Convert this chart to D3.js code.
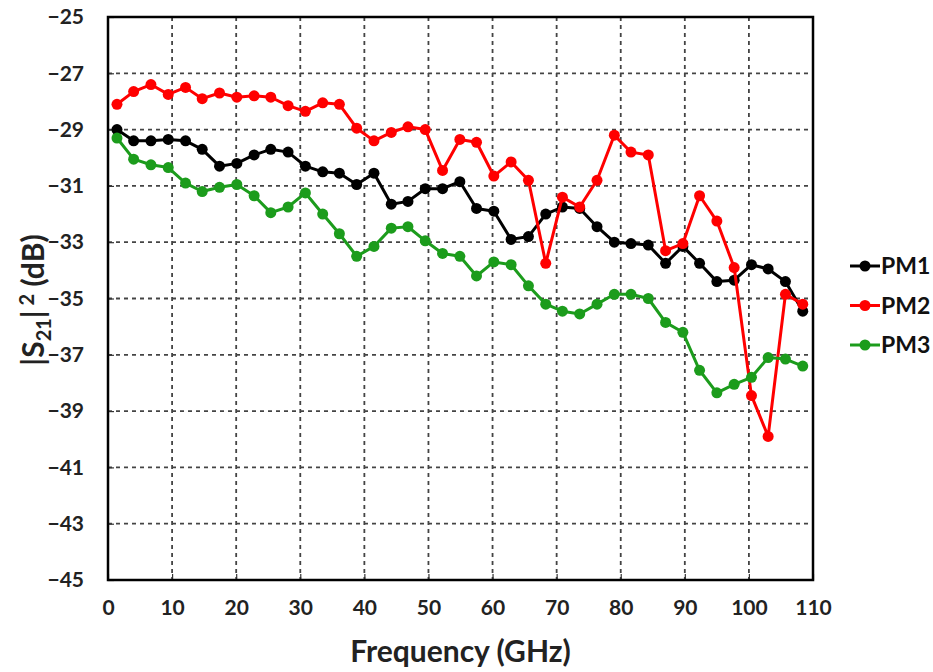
<!DOCTYPE html>
<html>
<head>
<meta charset="utf-8">
<script src="https://cdn.jsdelivr.net/npm/d3@7"></script>
<style>
  body { margin: 0; background: #fff; }
  svg text { font-family: Lato, "Open Sans", sans-serif; font-weight: bold; }
</style>
</head>
<body>
<div id="chart"></div>
<script>
// frequency points (GHz)
var freqs = [1.4, 4.0, 6.7, 9.4, 12.1, 14.7, 17.4, 20.1, 22.8, 25.4, 28.1, 30.8, 33.5, 36.1,
    38.8, 41.5, 44.2, 46.8, 49.5, 52.2, 54.9, 57.5, 60.2, 62.9, 65.6, 68.3, 70.9, 73.6,
    76.3, 79.0, 81.6, 84.3, 87.0, 89.7, 92.3, 95.0, 97.7, 100.4, 103.0, 105.7, 108.4];

var pm1 = [-29.0, -29.4, -29.4, -29.35, -29.4, -29.7, -30.3, -30.2, -29.9, -29.7, -29.8, -30.3,
    -30.5, -30.55, -30.95, -30.55, -31.65, -31.55, -31.1, -31.1, -30.85, -31.8, -31.9, -32.9,
    -32.8, -32.0, -31.75, -31.8, -32.45, -33.0, -33.05, -33.1, -33.75, -33.15, -33.75, -34.4,
    -34.35, -33.8, -33.95, -34.4, -35.45];

var pm2 = [-28.1, -27.65, -27.4, -27.75, -27.5, -27.9, -27.7, -27.85, -27.8, -27.85, -28.15, -28.35,
    -28.05, -28.1, -28.95, -29.4, -29.1, -28.9, -29.0, -30.45, -29.35, -29.45, -30.65, -30.15,
    -30.8, -33.75, -31.4, -31.75, -30.8, -29.2, -29.8, -29.9, -33.3, -33.05, -31.35, -32.25,
    -33.9, -38.45, -39.9, -34.85, -35.2];

var pm3 = [-29.3, -30.05, -30.25, -30.35, -30.9, -31.2, -31.05, -30.95, -31.35, -31.95, -31.75, -31.25,
    -32.0, -32.7, -33.5, -33.15, -32.5, -32.45, -32.95, -33.4, -33.5, -34.2, -33.7, -33.8,
    -34.55, -35.2, -35.45, -35.55, -35.2, -34.85, -34.85, -35.0, -35.85, -36.2, -37.55, -38.35,
    -38.05, -37.8, -37.1, -37.15, -37.4];

var seriesNames = ["PM1", "PM2", "PM3"];
var seriesColors = ["#000000", "#ff0000", "#1c9c1c"];
var xTicks = [0, 10, 20, 30, 40, 50, 60, 70, 80, 90, 100, 110];
var yTicks = [-25, -27, -29, -31, -33, -35, -37, -39, -41, -43, -45];

var width = 933, height = 672;
var margin = {top: 17, right: 120, bottom: 92, left: 108};
var plotW = 813 - margin.left;
var plotH = 580 - margin.top;

var svg = d3.select("#chart").append("svg")
    .attr("width", width)
    .attr("height", height);

var g = svg.append("g")
    .attr("transform", "translate(" + margin.left + "," + margin.top + ")");

var x = d3.scaleLinear().domain([0, 110]).range([0, plotW]);
var y = d3.scaleLinear().domain([-45, -25]).range([plotH, 0]);

// dashed grid
g.append("g")
    .selectAll("line")
    .data(xTicks.slice(1, -1))
    .enter().append("line")
    .attr("x1", function(d) { return x(d); })
    .attr("x2", function(d) { return x(d); })
    .attr("y1", 0)
    .attr("y2", plotH)
    .attr("stroke", "#444")
    .attr("stroke-width", 1.8)
    .attr("stroke-dasharray", "4,4");

g.append("g")
    .selectAll("line")
    .data(yTicks.slice(1, -1))
    .enter().append("line")
    .attr("x1", 0)
    .attr("x2", plotW)
    .attr("y1", function(d) { return y(d); })
    .attr("y2", function(d) { return y(d); })
    .attr("stroke", "#444")
    .attr("stroke-width", 1.8)
    .attr("stroke-dasharray", "4,4");

// axes
var xAxis = d3.axisBottom(x).tickValues(xTicks).tickSize(-6).tickPadding(20);
var yAxis = d3.axisLeft(y).tickValues(yTicks).tickSize(-6).tickPadding(24);

g.append("g")
    .attr("class", "x_axis")
    .attr("transform", "translate(0," + plotH + ")")
    .call(xAxis);

g.append("g")
    .attr("class", "y_axis")
    .call(yAxis);

g.selectAll(".domain").remove();
g.selectAll(".tick line").attr("stroke", "#333").attr("stroke-width", 1.2);
g.selectAll(".tick text")
    .attr("fill", "#222")
    .style("font-size", "21px");

// frame
g.append("rect")
    .attr("x", 0)
    .attr("y", 0)
    .attr("width", plotW)
    .attr("height", plotH)
    .attr("fill", "none")
    .attr("stroke", "#000")
    .attr("stroke-width", 2.5);

// series
var allSeries = [pm1, pm2, pm3];
var line = d3.line()
    .x(function(d, i) { return x(freqs[i]); })
    .y(function(d) { return y(d); });

allSeries.forEach(function(vals, k) {
    g.append("path")
        .datum(vals)
        .attr("fill", "none")
        .attr("stroke", seriesColors[k])
        .attr("stroke-width", 3)
        .attr("stroke-linejoin", "round")
        .attr("d", line);

    g.selectAll(".pt" + k)
        .data(vals)
        .enter().append("circle")
        .attr("class", "pt" + k)
        .attr("cx", function(d, i) { return x(freqs[i]); })
        .attr("cy", function(d) { return y(d); })
        .attr("r", 5.5)
        .attr("fill", seriesColors[k]);
});

// legend
var legend = svg.append("g").attr("transform", "translate(850,266)");
seriesNames.forEach(function(name, k) {
    var row = legend.append("g").attr("transform", "translate(0," + (k * 39.5) + ")");
    row.append("line")
        .attr("x1", 0).attr("x2", 30)
        .attr("stroke", seriesColors[k])
        .attr("stroke-width", 3);
    row.append("circle")
        .attr("cx", 15).attr("r", 5.5)
        .attr("fill", seriesColors[k]);
    row.append("text")
        .attr("x", 31)
        .attr("dy", "0.36em")
        .style("font-size", "23px")
        .attr("fill", "#111")
        .text(name);
});

// axis titles
svg.append("text")
    .attr("x", margin.left + plotW / 2)
    .attr("y", 662)
    .attr("text-anchor", "middle")
    .style("font-size", "30px")
    .attr("fill", "#222")
    .text("Frequency (GHz)");

var yTitle = svg.append("text")
    .attr("transform", "translate(44,300) rotate(-90)")
    .attr("text-anchor", "middle")
    .style("font-size", "30px")
    .attr("fill", "#222");
yTitle.append("tspan").text("|S");
yTitle.append("tspan").attr("dy", 7).style("font-size", "20px").text("21");
yTitle.append("tspan").attr("dy", -7).text("|");
yTitle.append("tspan").attr("dy", -10).style("font-size", "20px").text(" 2");
yTitle.append("tspan").attr("dy", 10).text(" (dB)");
</script>
</body>
</html>
